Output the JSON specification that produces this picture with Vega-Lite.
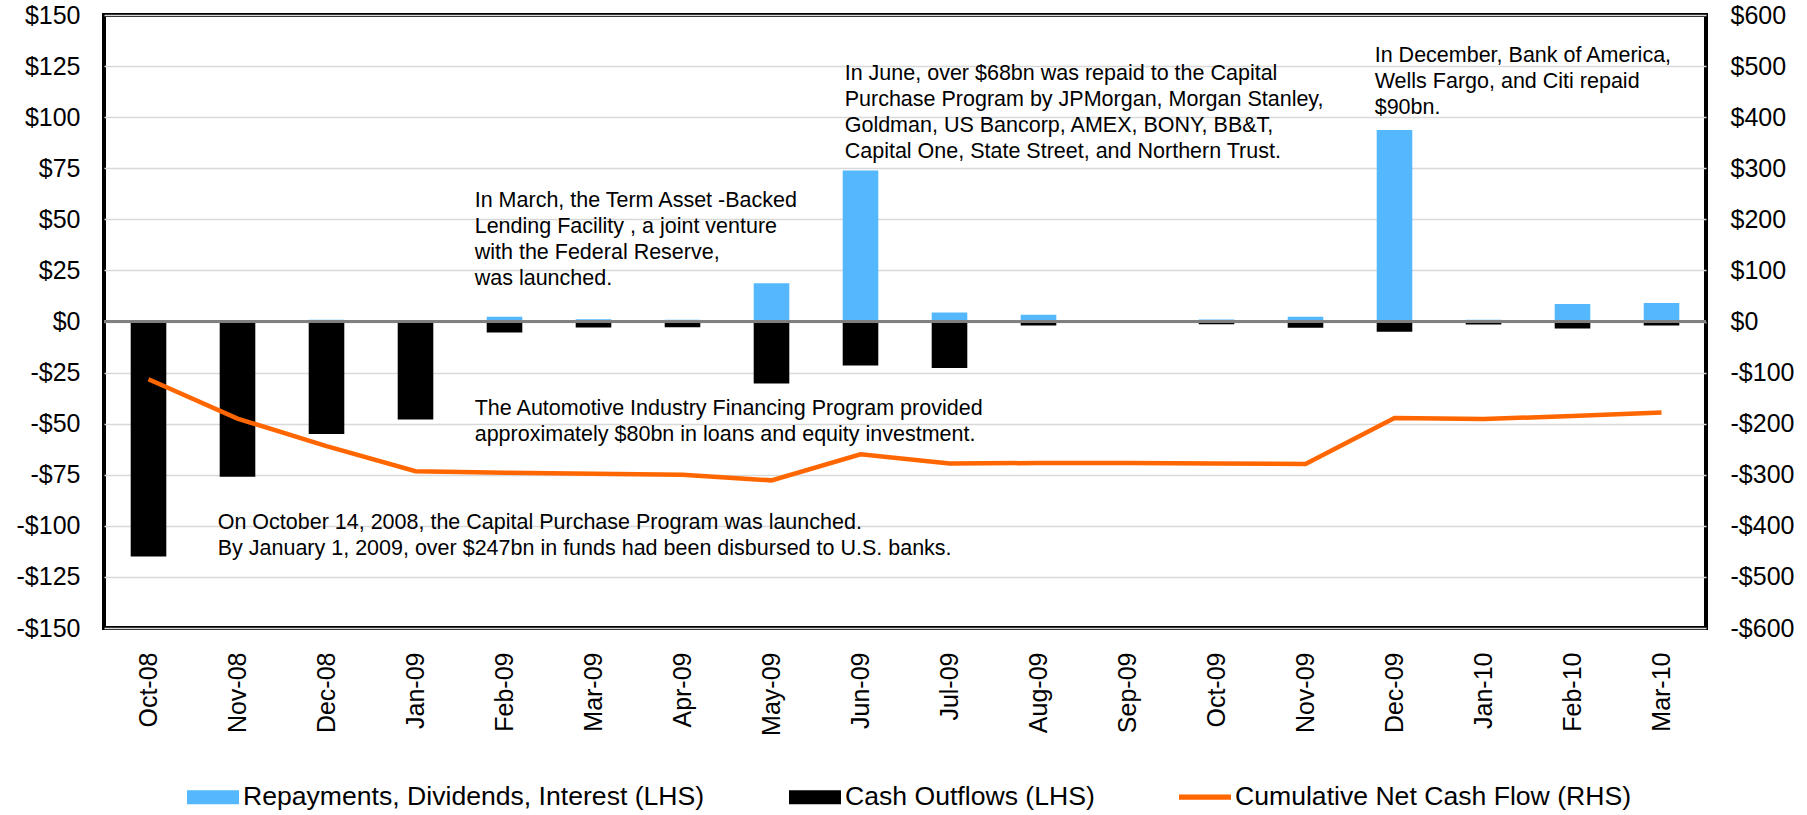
{
  "$schema": "https://vega.github.io/schema/vega-lite/v6.json",
  "width": 1602,
  "height": 613,
  "autosize": "none",
  "padding": {"left": 104, "top": 15, "right": 101, "bottom": 187},
  "background": "#ffffff",
  "datasets": {
    "flows": [
      {"month": "Oct-08", "repay": 0, "outflow": -115, "cum": -113},
      {"month": "Nov-08", "repay": 0, "outflow": -76, "cum": -190},
      {"month": "Dec-08", "repay": 0.8, "outflow": -55, "cum": -244},
      {"month": "Jan-09", "repay": 0, "outflow": -48, "cum": -293},
      {"month": "Feb-09", "repay": 2.3, "outflow": -5.4, "cum": -296},
      {"month": "Mar-09", "repay": 1.1, "outflow": -2.9, "cum": -298},
      {"month": "Apr-09", "repay": 0.8, "outflow": -2.8, "cum": -300},
      {"month": "May-09", "repay": 18.7, "outflow": -30.3, "cum": -311},
      {"month": "Jun-09", "repay": 73.9, "outflow": -21.5, "cum": -260},
      {"month": "Jul-09", "repay": 4.4, "outflow": -22.8, "cum": -278},
      {"month": "Aug-09", "repay": 3.3, "outflow": -2.0, "cum": -277},
      {"month": "Sep-09", "repay": 0.7, "outflow": 0, "cum": -277},
      {"month": "Oct-09", "repay": 1.0, "outflow": -1.3, "cum": -278},
      {"month": "Nov-09", "repay": 2.3, "outflow": -3.0, "cum": -279},
      {"month": "Dec-09", "repay": 93.7, "outflow": -5.0, "cum": -189},
      {"month": "Jan-10", "repay": 0.8, "outflow": -1.5, "cum": -191},
      {"month": "Feb-10", "repay": 8.6, "outflow": -3.4, "cum": -185},
      {"month": "Mar-10", "repay": 9.1, "outflow": -2.0, "cum": -178}
    ],
    "notesA": [
      {"month": "Feb-09", "value": 64.3, "lines": ["In March, the Term Asset -Backed", "Lending Facility , a joint venture", "with the Federal Reserve,", "was launched."]},
      {"month": "Feb-09", "value": -37.6, "lines": ["The Automotive Industry Financing Program provided", "approximately $80bn in loans and equity investment."]}
    ],
    "notesB": [
      {"month": "Jun-09", "value": 126.3, "lines": ["In June, over $68bn was repaid to the Capital", "Purchase Program by JPMorgan, Morgan Stanley,", "Goldman, US Bancorp, AMEX, BONY, BB&T,", "Capital One, State Street, and Northern Trust."]}
    ],
    "notesC": [
      {"month": "Dec-09", "value": 135.3, "lines": ["In December, Bank of America,", "Wells Fargo, and Citi repaid", "$90bn."]},
      {"month": "Nov-08", "value": -93.1, "lines": ["On October 14, 2008, the Capital Purchase Program was launched.", "By January 1, 2009, over $247bn in funds had been disbursed to U.S. banks."]}
    ]
  },
  "config": {
    "font": "Liberation Sans",
    "view": {"stroke": "#000000", "strokeWidth": 4},
    "axis": {
      "labelFont": "Liberation Sans",
      "labelFontSize": 25,
      "labelColor": "#000000",
      "ticks": false,
      "domain": false,
      "gridColor": "#D9D9D9",
      "gridWidth": 1.5
    },
    "text": {"align": "left", "baseline": "top", "fontSize": 21.5, "lineHeight": 26, "font": "Liberation Sans", "color": "#000000"}
  },
  "layer": [
    {
      "data": {"name": "flows"},
      "layer": [
        {
          "mark": {"type": "bar", "color": "#55B8FF"},
          "encoding": {
            "x": {
              "field": "month", "type": "ordinal",
              "scale": {
                "domain": ["Oct-08","Nov-08","Dec-08","Jan-09","Feb-09","Mar-09","Apr-09","May-09","Jun-09","Jul-09","Aug-09","Sep-09","Oct-09","Nov-09","Dec-09","Jan-10","Feb-10","Mar-10"],
                "paddingInner": 0.6, "paddingOuter": 0.3
              },
              "axis": {"title": null, "labelAngle": -90, "labelPadding": 24, "grid": false}
            },
            "y": {
              "field": "repay", "type": "quantitative",
              "scale": {"domain": [-150, 150], "nice": false, "zero": false},
              "axis": {
                "title": null, "orient": "left", "grid": true, "labelPadding": 24,
                "values": [-150,-125,-100,-75,-50,-25,0,25,50,75,100,125,150],
                "labelExpr": "(datum.value < 0 ? '-' : '') + '$' + abs(datum.value)"
              }
            },
            "y2": {"datum": 0},
            "color": {
              "datum": "Repayments, Dividends, Interest (LHS)",
              "scale": {
                "domain": ["Repayments, Dividends, Interest (LHS)", "Cash Outflows (LHS)", "Cumulative Net Cash Flow (RHS)"],
                "range": ["#55B8FF", "#000000", "#FF6600"]
              },
              "legend": {
                "orient": "none",
                "legendX": 83,
                "legendY": 756,
                "direction": "horizontal",
                "columns": 3,
                "title": null,
                "labelFont": "Liberation Sans",
                "labelFontSize": 26.6,
                "labelColor": "#000000",
                "labelLimit": 0,
                "labelOffset": 4,
                "symbolSize": 2704,
                "symbolStrokeWidth": 0,
                "columnPadding": 84,
                "symbolType": "M-1,-0.27H1V0.27H-1Z",
                "encode": {
                  "symbols": {
                    "update": {
                      "shape": {"signal": "datum.label === 'Cumulative Net Cash Flow (RHS)' ? 'M-1,-0.1H1V0.1H-1Z' : 'M-1,-0.27H1V0.27H-1Z'"},
                      "fill": {"signal": "scale('color', datum.value)"},
                      "stroke": {"value": "transparent"},
                      "opacity": {"value": 1},
                      "fillOpacity": {"value": 1}
                    }
                  }
                }
              }
            }
          }
        },
        {
          "mark": {"type": "bar", "color": "#000000"},
          "encoding": {
            "x": {"field": "month", "type": "ordinal"},
            "y": {"field": "outflow", "type": "quantitative"},
            "y2": {"datum": 0},
            "color": {"datum": "Cash Outflows (LHS)"}
          }
        },
        {
          "mark": {"type": "rule", "color": "#808080", "strokeWidth": 2},
          "encoding": {"y": {"datum": 0}}
        },
        {
          "data": {"name": "notesA"},
          "mark": {"type": "text", "dx": -12},
          "encoding": {
            "x": {"field": "month", "type": "ordinal", "bandPosition": 0},
            "y": {"field": "value", "type": "quantitative"},
            "text": {"field": "lines"}
          }
        },
        {
          "data": {"name": "notesB"},
          "mark": {"type": "text", "dx": 2},
          "encoding": {
            "x": {"field": "month", "type": "ordinal", "bandPosition": 0},
            "y": {"field": "value", "type": "quantitative"},
            "text": {"field": "lines"}
          }
        },
        {
          "data": {"name": "notesC"},
          "mark": {"type": "text", "dx": -2},
          "encoding": {
            "x": {"field": "month", "type": "ordinal", "bandPosition": 0},
            "y": {"field": "value", "type": "quantitative"},
            "text": {"field": "lines"}
          }
        }
      ]
    },
    {
      "data": {"name": "flows"},
      "mark": {"type": "line", "strokeWidth": 4.5, "color": "#FF6600"},
      "encoding": {
        "x": {"field": "month", "type": "ordinal"},
        "y": {
          "field": "cum", "type": "quantitative",
          "scale": {"domain": [-600, 600], "nice": false, "zero": false},
          "axis": {
            "title": null, "orient": "right", "grid": false, "labelPadding": 24,
            "values": [-600,-500,-400,-300,-200,-100,0,100,200,300,400,500,600],
            "labelExpr": "(datum.value < 0 ? '-' : '') + '$' + abs(datum.value)"
          }
        },
        "color": {"datum": "Cumulative Net Cash Flow (RHS)"}
      }
    }
  ],
  "resolve": {"scale": {"y": "independent"}}
}
